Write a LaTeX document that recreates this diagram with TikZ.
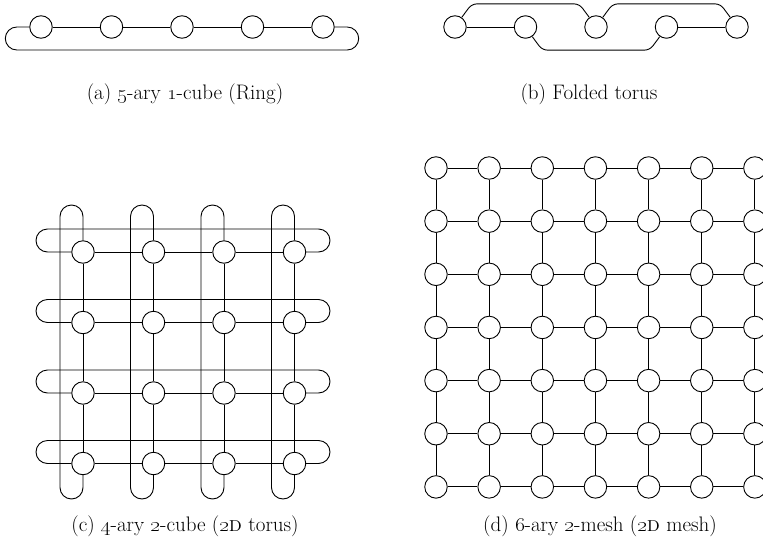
\documentclass[tikz,border=0pt]{standalone}
\usetikzlibrary{calc}

\newcommand{\osf}[1]{\oldstylenums{#1}}

\begin{document}
\begin{tikzpicture}[
    x=1pt, y=-1pt,
    router/.style={circle, draw, line width=0.9pt, fill=white,
        inner sep=0pt, minimum size=22.5pt},
    link/.style={line width=0.9pt},
    wrap link/.style={link, rounded corners=11.5pt},
    fold link/.style={link, rounded corners=5pt},
    caption/.style={anchor=base, font=\fontsize{21}{25}\selectfont},
]
\useasboundingbox (0,0) rectangle (763,552);

% ---- layout parameters ----
\def\S{70.5}      % router pitch (ring, folded torus, torus)
\def\Sm{53.15}    % router pitch (mesh)
\def\wrapL{47}    % torus loop reach before the first router
\def\wrapR{35.5}  % torus loop reach past the last router
\def\loopW{23}    % width of a wrap-around loop

% ======== (a) ring ========
\foreach \i in {1,...,5}
    \node[router] (a-\i) at ({41+(\i-1)*\S}, 27) {};
\foreach \i in {1,...,4} {
    \pgfmathtruncatemacro{\n}{\i+1}
    \draw[link] (a-\i) -- (a-\n);
}
% wrap-around link back along the bottom
\draw[wrap link] (a-1.west) -- ++(-24,0) -- ++(0,\loopW)
    -- ($(a-5.east)+(24,\loopW)$) -- ++(0,-\loopW) -- (a-5.east);
\node[caption] (cap-a) at (185,99)
    {(a) \osf{5}-ary \osf{1}-cube (Ring)};

% ======== (b) folded torus ========
\foreach \i in {1,...,5}
    \node[router] (b-\i) at ({455+(\i-1)*\S}, 27) {};
\draw[link] (b-1) -- (b-2);
\draw[link] (b-4) -- (b-5);
% long links skip one router, above and below
\draw[fold link] (b-1.55) -- ++(10,-13.5)
    -- ($(b-3.125)+(-10,-13.5)$) -- (b-3.125);
\draw[fold link] (b-3.55) -- ++(10,-13.5)
    -- ($(b-5.125)+(-10,-13.5)$) -- (b-5.125);
\draw[fold link] (b-2.-55) -- ++(10,13.5)
    -- ($(b-4.-125)+(-10,13.5)$) -- (b-4.-125);
\node[caption] (cap-b) at (589,99) {(b) Folded torus};

% ======== (c) 2D torus ========
\foreach \i in {1,...,4}
    \foreach \j in {1,...,4}
        \node[router] (c-\i-\j) at ({83+(\i-1)*\S}, {252+(\j-1)*\S}) {};
\foreach \k in {1,...,4} {
    \foreach \i in {1,...,3} {
        \pgfmathtruncatemacro{\n}{\i+1}
        \draw[link] (c-\i-\k) -- (c-\n-\k);
        \draw[link] (c-\k-\i) -- (c-\k-\n);
    }
}
% row wrap-around: loop above each row
\foreach \j in {1,...,4}
    \draw[wrap link] (c-1-\j.west) -- ($(c-1-\j)+(-\wrapL,0)$)
        -- ++(0,-\loopW) -- ($(c-4-\j)+(\wrapR,-\loopW)$)
        -- ++(0,\loopW) -- (c-4-\j.east);
% column wrap-around: loop left of each column
\foreach \i in {1,...,4}
    \draw[wrap link] (c-\i-1.north) -- ($(c-\i-1)+(0,-\wrapL)$)
        -- ++(-\loopW,0) -- ($(c-\i-4)+(-\loopW,\wrapR)$)
        -- ++(\loopW,0) -- (c-\i-4.south);
\node[caption] (cap-c) at (185,531)
    {(c) \osf{4}-ary \osf{2}-cube (\textsc{\osf{2}d} torus)};

% ======== (d) 2D mesh ========
\foreach \i in {1,...,7}
    \foreach \j in {1,...,7}
        \node[router] (d-\i-\j) at ({436+(\i-1)*\Sm}, {168+(\j-1)*\Sm}) {};
\foreach \k in {1,...,7} {
    \foreach \i in {1,...,6} {
        \pgfmathtruncatemacro{\n}{\i+1}
        \draw[link] (d-\i-\k) -- (d-\n-\k);
        \draw[link] (d-\k-\i) -- (d-\k-\n);
    }
}
\node[caption] (cap-d) at (600,531)
    {(d) \osf{6}-ary \osf{2}-mesh (\textsc{\osf{2}d} mesh)};

\end{tikzpicture}
\end{document}
